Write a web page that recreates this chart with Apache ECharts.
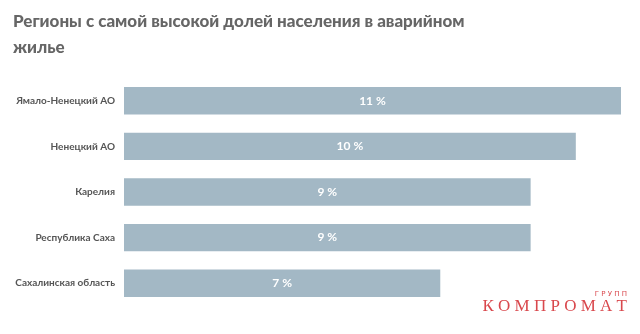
<!DOCTYPE html>
<html>
<head>
<meta charset="utf-8">
<script src="https://cdn.jsdelivr.net/npm/echarts@6/dist/echarts.min.js"></script>
<style>
  html, body { margin: 0; padding: 0; background: #fff; }
  #chart { width: 640px; height: 334px; }
</style>
</head>
<body>
<div id="chart"></div>
<script>
// Регионы и доля населения в аварийном жилье, %
const regions = ['Ямало-Ненецкий АО', 'Ненецкий АО', 'Карелия', 'Республика Саха', 'Сахалинская область'];
const shares = [11, 10, 9, 9, 7];

const chart = echarts.init(document.getElementById('chart'));

chart.setOption({
  animation: false,
  title: {
    text: 'Регионы с самой высокой долей населения в аварийном\nжилье',
    left: 8,
    top: 4,
    textStyle: {
      fontFamily: 'Lato',
      fontWeight: 900,
      fontSize: 17,
      color: '#666666',
      lineHeight: 26
    }
  },
  grid: { left: 124, right: 19, top: 78, bottom: 28 },
  xAxis: {
    type: 'value',
    min: 0,
    max: 11,
    show: false
  },
  yAxis: {
    type: 'category',
    data: regions,
    inverse: true,
    axisLine: { show: false },
    axisTick: { show: false },
    axisLabel: {
      margin: 9,
      fontFamily: 'Lato',
      fontWeight: 'bold',
      fontSize: 10,
      color: '#555555'
    }
  },
  series: [{
    type: 'bar',
    data: shares,
    barCategoryGap: '40%',
    itemStyle: { color: '#a3b8c5' },
    label: {
      show: true,
      position: 'inside',
      formatter: p => p.value + ' %',
      fontFamily: 'Lato',
      fontWeight: 'bold',
      fontSize: 12,
      color: '#ffffff'
    }
  }],
  graphic: [
    {
      type: 'text',
      right: 13,
      top: 291,
      style: {
        text: 'Г Р У П П',
        fontFamily: 'DejaVu Sans',
        fontSize: 7,
        fill: '#d9484d'
      }
    },
    {
      type: 'text',
      right: 13,
      top: 298,
      style: {
        text: 'К О М П Р О М А Т',
        fontFamily: 'Liberation Serif',
        fontSize: 17,
        fill: '#d9484d'
      }
    }
  ]
});
</script>
</body>
</html>
